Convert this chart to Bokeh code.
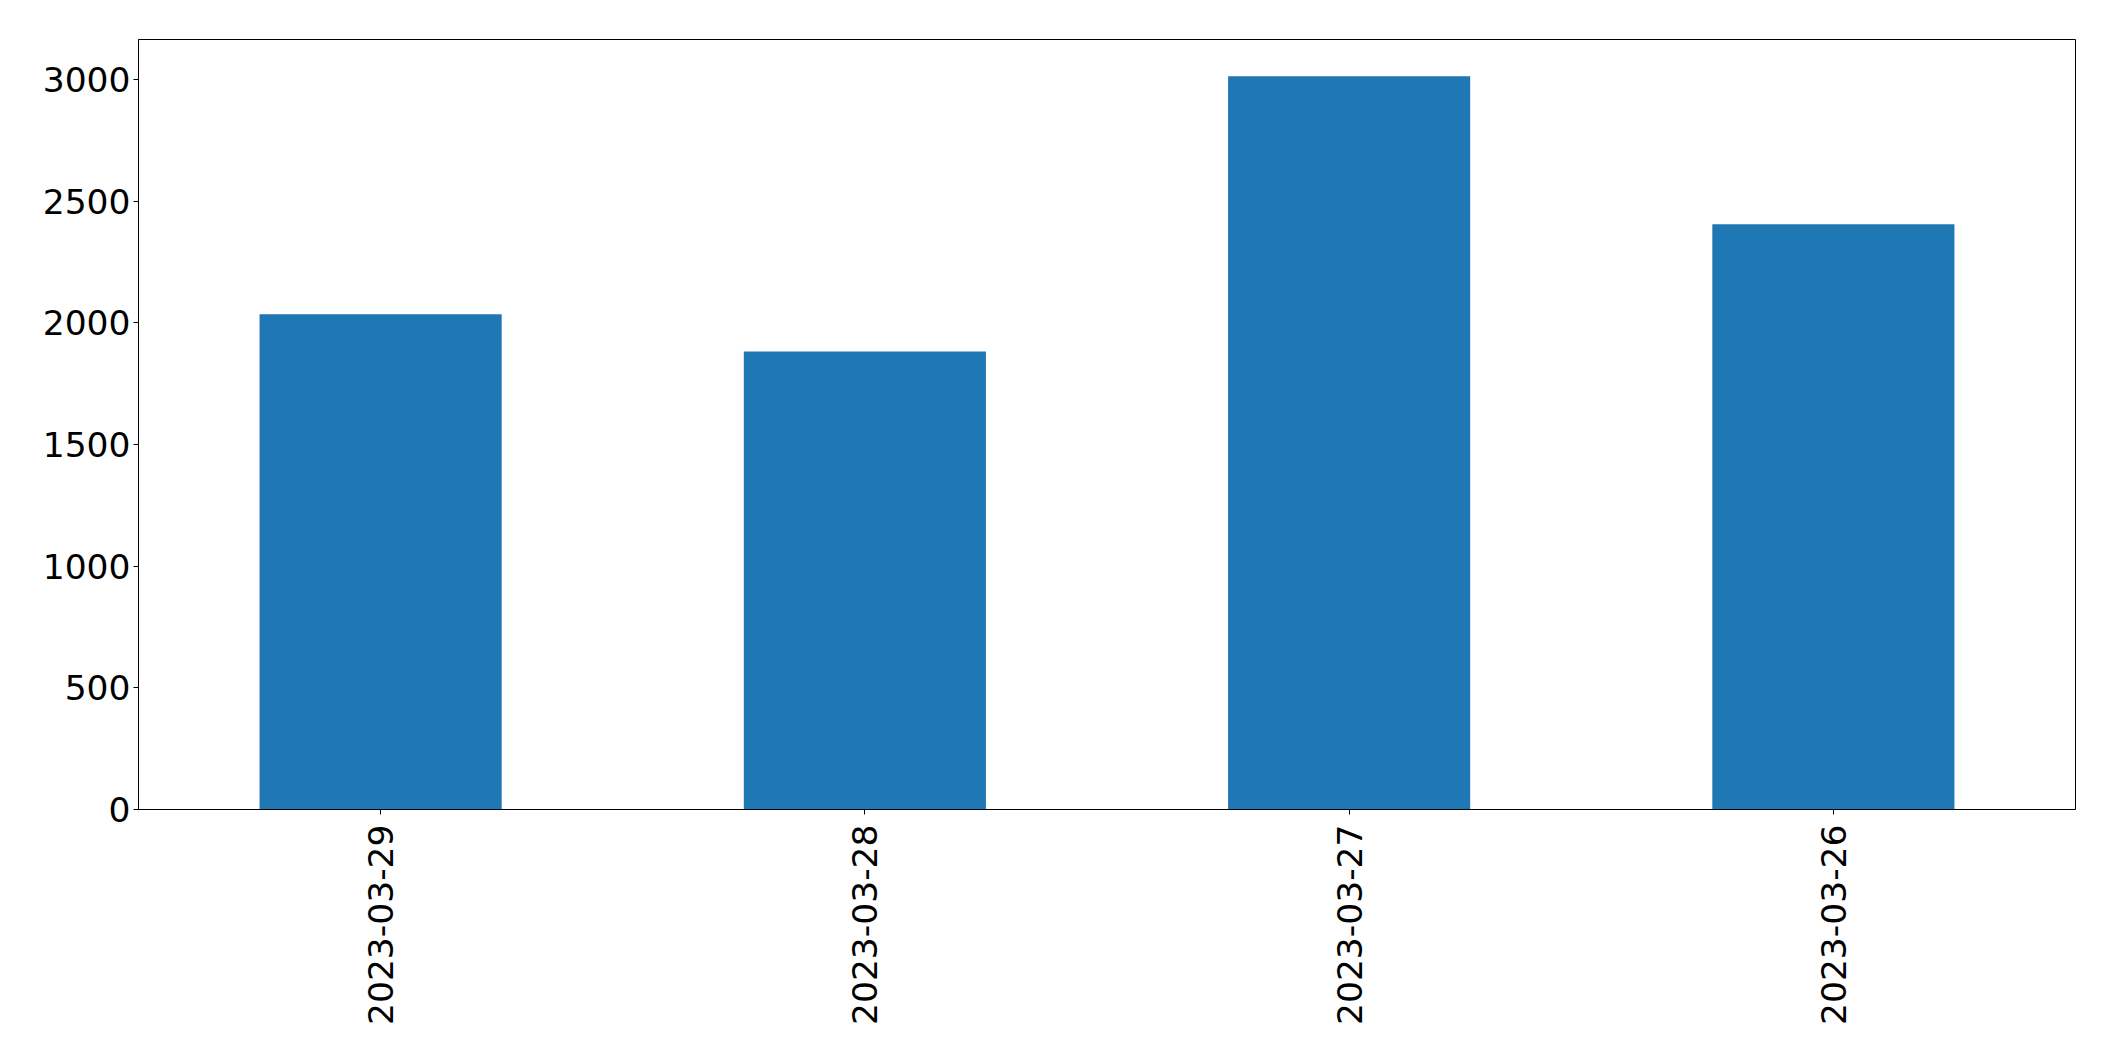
import math
from bokeh.plotting import figure
from bokeh.models import FactorRange, Range1d, FixedTicker
from bokeh.embed import file_html
from bokeh.resources import INLINE

dates = ["2023-03-29", "2023-03-28", "2023-03-27", "2023-03-26"]
counts = [2035, 1882, 3013, 2405]
y_ticks = [0, 500, 1000, 1500, 2000, 2500, 3000]

p = figure(x_range=FactorRange(*dates), y_range=Range1d(0, max(counts) * 1.05),
           width=2107, height=1053, output_backend="svg", toolbar_location=None,
           min_border_left=138, min_border_right=32, min_border_top=39, min_border_bottom=244)
p.vbar(x=dates, top=counts, width=0.5, color="#1f77b4", line_color=None)

p.xgrid.visible = False
p.ygrid.visible = False
p.outline_line_color = "black"
p.outline_line_width = 1
p.outline_line_alpha = 1

for ax in (p.xaxis[0], p.yaxis[0]):
    ax.axis_line_color = "black"
    ax.major_tick_line_color = "black"
    ax.major_tick_in = 0
    ax.major_tick_out = 5
    ax.minor_tick_line_color = None
    ax.major_label_text_font = "DejaVu Sans"
    ax.major_label_text_font_size = "34.5px"
    ax.major_label_text_color = "black"

p.yaxis[0].ticker = FixedTicker(ticks=y_ticks)
p.yaxis[0].major_label_standoff = 3
p.xaxis[0].major_label_standoff = 10
p.xaxis[0].major_label_orientation = math.pi / 2
p.x_range.range_padding = 0

open("out.html", "w").write(file_html(p, INLINE))
